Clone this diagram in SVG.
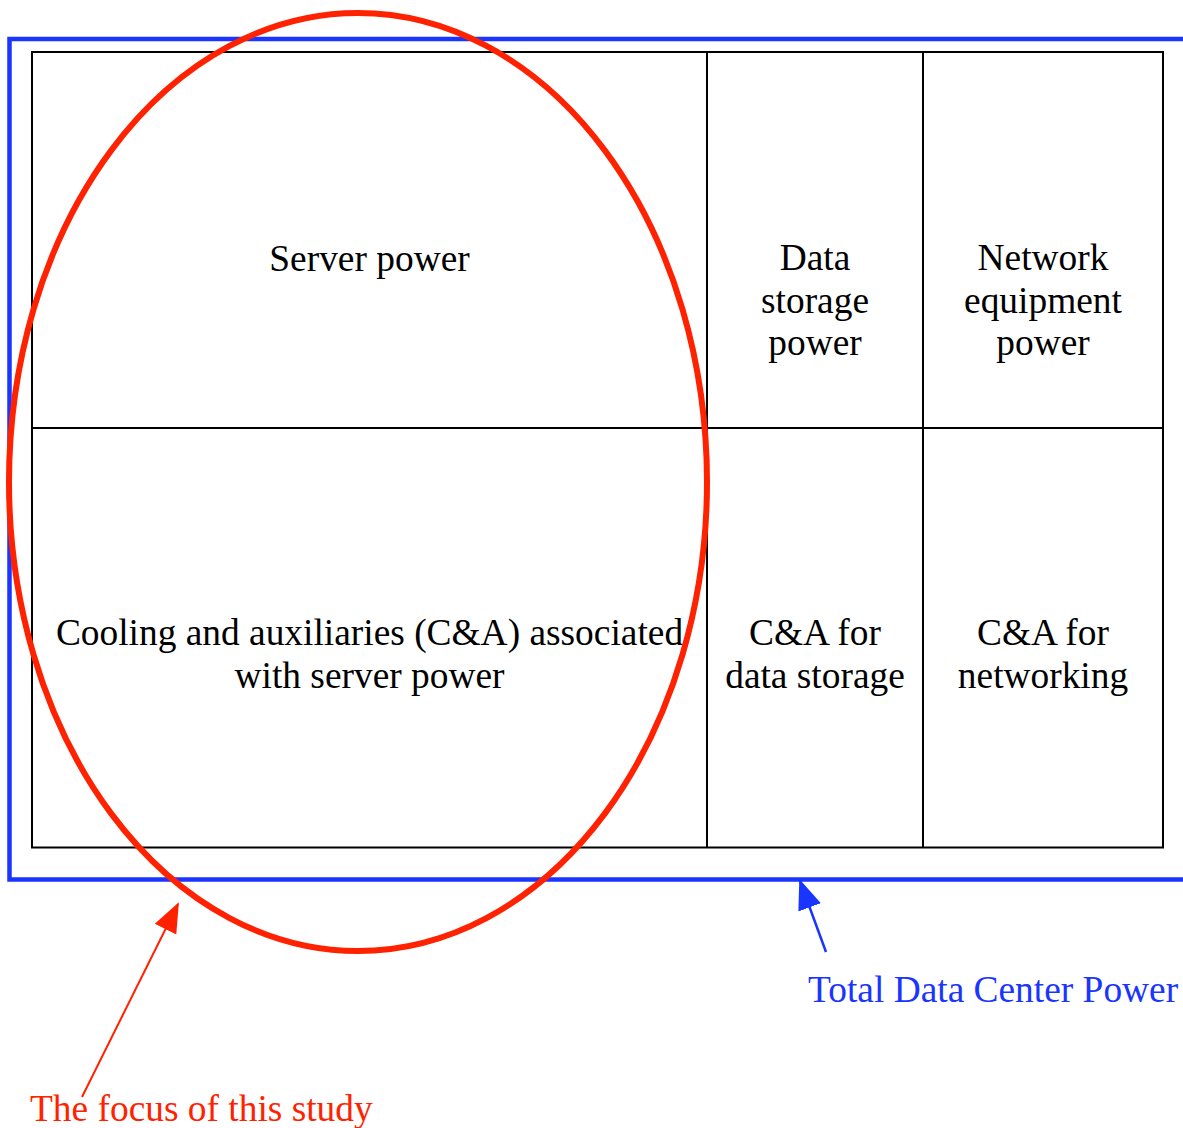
<svg xmlns="http://www.w3.org/2000/svg" width="1183" height="1128" viewBox="0 0 1183 1128">
<style>
text{font-family:"Liberation Serif","Times New Roman",serif;font-size:37.4px}
.b{fill:#000;text-anchor:middle}
.cell{fill:none;stroke:#000;stroke-width:2}
</style>
<defs>
<marker id="ar" markerUnits="userSpaceOnUse" markerWidth="30" markerHeight="30" refX="28" refY="12" viewBox="0 0 30 24" orient="auto"><path d="M0,0 L30,12 L0,24 Z" fill="#ff2200"/></marker>
<marker id="ab" markerUnits="userSpaceOnUse" markerWidth="30" markerHeight="30" refX="28" refY="12" viewBox="0 0 30 24" orient="auto"><path d="M0,0 L30,12 L0,24 Z" fill="#1a35ff"/></marker>
</defs>
<rect width="1183" height="1128" fill="#fff"/>
<g id="total"><rect x="9.5" y="39" width="1190" height="840.5" fill="none" stroke="#1a35ff" stroke-width="4.5"/></g>
<g id="grid">
<rect class="cell" x="32" y="52" width="1131" height="795.5"/>
<line class="cell" x1="707" y1="52" x2="707" y2="847.5"/>
<line class="cell" x1="923" y1="52" x2="923" y2="847.5"/>
<line class="cell" x1="32" y1="428" x2="1163" y2="428"/>
</g>
<g id="server"><text class="b" x="369.5" y="271">Server power</text></g>
<g id="storage"><text class="b" x="815" y="270">Data</text><text class="b" x="815" y="313">storage</text><text class="b" x="815" y="355">power</text></g>
<g id="network"><text class="b" x="1043" y="270">Network</text><text class="b" x="1043" y="313">equipment</text><text class="b" x="1043" y="355">power</text></g>
<g id="ca-server"><text class="b" x="369.5" y="645">Cooling and auxiliaries (C&amp;A) associated</text><text class="b" x="369.5" y="688">with server power</text></g>
<g id="ca-storage"><text class="b" x="815" y="645">C&amp;A for</text><text class="b" x="815" y="688">data storage</text></g>
<g id="ca-network"><text class="b" x="1043" y="645">C&amp;A for</text><text class="b" x="1043" y="688">networking</text></g>
<g id="focus"><ellipse cx="358" cy="482" rx="349" ry="469" fill="none" stroke="#ff2200" stroke-width="6"/></g>
<g id="connectors">
<line x1="82" y1="1097" x2="178" y2="904" stroke="#ff2200" stroke-width="2" marker-end="url(#ar)"/>
<line x1="826" y1="952" x2="800" y2="881" stroke="#1a35ff" stroke-width="2.5" marker-end="url(#ab)"/>
</g>
<g id="labels">
<text x="808" y="1002" fill="#1a35ff">Total Data Center Power</text>
<text x="30" y="1121" fill="#ff2200">The focus of this study</text>
</g>
</svg>
